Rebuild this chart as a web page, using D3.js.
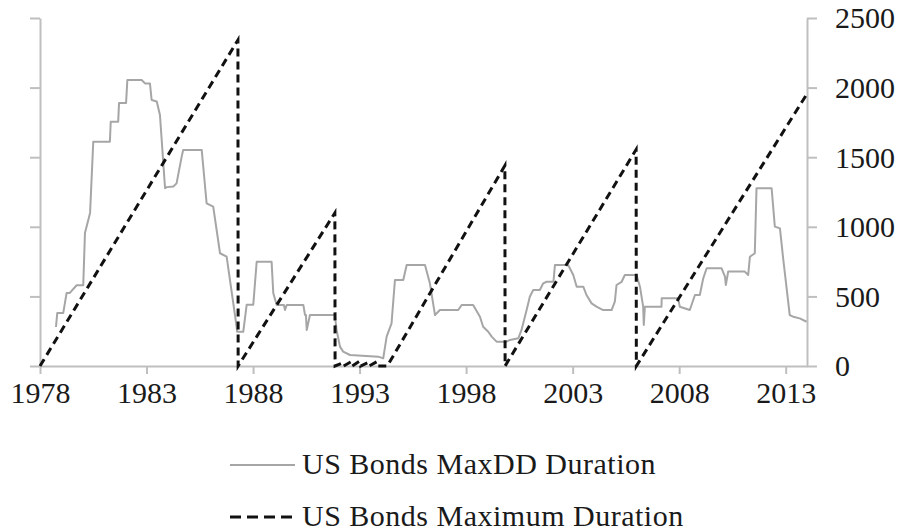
<!DOCTYPE html>
<html>
<head>
<meta charset="utf-8">
<script src="https://cdn.jsdelivr.net/npm/d3@7"></script>
<style>
  body { margin: 0; background: #fff; }
  text { font-family: "Liberation Serif", "DejaVu Serif", serif; fill: #1a1a1a; }
</style>
</head>
<body>
<div id="chart"></div>
<script>
// Tick labels
var yearTicks = [1978, 1983, 1988, 1993, 1998, 2003, 2008, 2013];
var valueTicks = [0, 500, 1000, 1500, 2000, 2500];

// US Bonds MaxDD Duration (grey step line), fractional years
var ddYears = [1978.75, 1978.81, 1979.09, 1979.25, 1979.40, 1979.72, 1980.03, 1980.11, 1980.35, 1980.50,
  1981.28, 1981.32, 1981.67, 1981.71, 1982.04, 1982.10, 1982.77, 1982.93, 1983.16, 1983.24,
  1983.48, 1983.63, 1983.87, 1983.95, 1984.26, 1984.41, 1984.65, 1984.72, 1985.59, 1985.82,
  1986.13, 1986.45, 1986.76, 1987.23, 1987.25, 1987.54, 1987.70, 1988.01, 1988.17, 1988.87,
  1988.95, 1989.11, 1989.45, 1989.50, 1989.58, 1990.36, 1990.44, 1990.48, 1990.52, 1990.67,
  1991.84, 1991.92, 1992.08, 1992.23, 1992.55, 1993.88, 1994.11, 1994.27, 1994.50, 1994.66,
  1995.05, 1995.21, 1996.07, 1996.30, 1996.54, 1996.77, 1997.63, 1997.79, 1998.33, 1998.65,
  1998.80, 1999.04, 1999.20, 1999.43, 1999.90, 2000.06, 2000.45, 2000.60, 2000.84, 2000.99,
  2001.15, 2001.46, 2001.62, 2001.78, 2002.10, 2002.17, 2002.79, 2003.03, 2003.19, 2003.50,
  2003.65, 2003.89, 2004.12, 2004.43, 2004.83, 2004.98, 2005.06, 2005.30, 2005.45, 2006.00,
  2006.16, 2006.31, 2006.34, 2006.39, 2007.17, 2007.18, 2007.95, 2008.03, 2008.50, 2008.74,
  2008.97, 2009.13, 2009.29, 2009.99, 2010.15, 2010.19, 2010.30, 2011.08, 2011.24, 2011.32,
  2011.55, 2011.63, 2012.34, 2012.49, 2012.73, 2012.88, 2013.19, 2013.35, 2013.66, 2013.98];
var ddValues = [280, 380, 380, 525, 525, 580, 580, 955, 1100, 1611,
  1611, 1755, 1755, 1890, 1890, 2055, 2055, 2030, 2030, 1911,
  1900, 1803, 1277, 1285, 1290, 1312, 1504, 1552, 1552, 1169,
  1145, 810, 785, 282, 246, 246, 440, 440, 749, 749,
  522, 438, 438, 402, 438, 438, 366, 366, 259, 366,
  366, 259, 139, 103, 79, 67, 55, 211, 306, 618,
  618, 726, 726, 594, 366, 402, 402, 438, 438, 354,
  282, 246, 211, 175, 175, 187, 199, 259, 402, 498,
  546, 546, 594, 605, 605, 726, 726, 654, 570, 570,
  510, 450, 426, 402, 402, 462, 582, 605, 654, 654,
  570, 426, 295, 426, 426, 486, 486, 426, 402, 510,
  510, 630, 702, 702, 642, 582, 678, 678, 654, 785,
  810, 1277, 1277, 1001, 989, 774, 366, 354, 342, 318];

// US Bonds Maximum Duration (black dashed saw-tooth), vertices
var maxYears = [1978.00, 1987.29, 1987.30, 1991.84, 1991.85,
  1992.20, 1992.25, 1992.60, 1992.65, 1993.00, 1993.05, 1993.40, 1993.45, 1993.80, 1993.85,
  1994.30, 1999.82, 1999.83, 2005.98, 2005.99, 2013.98];
var maxValues = [0, 2342, 0, 1100, 0,
  22, 0, 30, 0, 35, 0, 25, 0, 30, 0,
  0, 1440, 0, 1555, 0, 1950];

var width = 899, height = 532;
var plotLeft = 40, plotRight = 807, plotTop = 18, plotBottom = 366;

var svg = d3.select("#chart").append("svg")
  .attr("width", width)
  .attr("height", height);

var xScale = d3.scaleLinear().domain([1978, 2014]).range([plotLeft, plotRight]);
var yScale = d3.scaleLinear().domain([0, 2500]).range([plotBottom, plotTop]);

var axisColor = "#bfbfbf";

// left axis: ticks only
var yAxisLeft = d3.axisLeft(yScale).tickValues(valueTicks).tickSize(10).tickSizeOuter(0).tickFormat("");
var gl = svg.append("g").attr("transform", "translate(" + plotLeft + ",0)").call(yAxisLeft);

// right axis with labels
var yAxisRight = d3.axisRight(yScale).tickValues(valueTicks).tickSize(10).tickSizeOuter(0)
  .tickPadding(18).tickFormat(d3.format("d"));
var gr = svg.append("g").attr("transform", "translate(" + plotRight + ",0)").call(yAxisRight);

// bottom axis
var xAxis = d3.axisBottom(xScale).tickValues(yearTicks).tickSize(8).tickSizeOuter(0)
  .tickPadding(7).tickFormat(d3.format("d"));
var gx = svg.append("g").attr("transform", "translate(0," + plotBottom + ")").call(xAxis);

[gl, gr, gx].forEach(function(g) {
  g.select(".domain").attr("stroke", axisColor).attr("stroke-width", 2);
  g.selectAll(".tick line").attr("stroke", axisColor).attr("stroke-width", 2);
  g.selectAll(".tick text")
    .style("font-family", "'Liberation Serif', serif")
    .style("font-size", "30px")
    .attr("fill", "#1a1a1a");
});
gr.selectAll(".tick text").attr("dy", "0.33em");
gx.selectAll(".tick text").attr("dy", "0.72em");

var ddData = ddYears.map(function(y, i) { return [y, ddValues[i]]; });
var maxData = maxYears.map(function(y, i) { return [y, maxValues[i]]; });

var line = d3.line()
  .x(function(d) { return xScale(d[0]); })
  .y(function(d) { return yScale(d[1]); });

// grey MaxDD line
svg.append("path")
  .datum(ddData)
  .attr("fill", "none")
  .attr("stroke", "#a6a6a6")
  .attr("stroke-width", 2)
  .attr("stroke-linejoin", "round")
  .attr("d", line);

// dashed maximum duration
svg.append("path")
  .datum(maxData)
  .attr("fill", "none")
  .attr("stroke", "#111")
  .attr("stroke-width", 3)
  .attr("stroke-dasharray", "8,5")
  .attr("d", line);

// Legend
var legend = svg.append("g");
legend.append("line")
  .attr("x1", 230).attr("x2", 295).attr("y1", 465).attr("y2", 465)
  .attr("stroke", "#a6a6a6").attr("stroke-width", 2);
legend.append("text")
  .attr("x", 302).attr("y", 474)
  .style("font-size", "30px")
  .style("letter-spacing", "0.5px")
  .text("US Bonds MaxDD Duration");
legend.append("line")
  .attr("x1", 230).attr("x2", 292).attr("y1", 517).attr("y2", 517)
  .attr("stroke", "#111").attr("stroke-width", 3)
  .attr("stroke-dasharray", "11,6");
legend.append("text")
  .attr("x", 302).attr("y", 526)
  .style("font-size", "30px")
  .style("letter-spacing", "0.5px")
  .text("US Bonds Maximum Duration");
</script>
</body>
</html>
